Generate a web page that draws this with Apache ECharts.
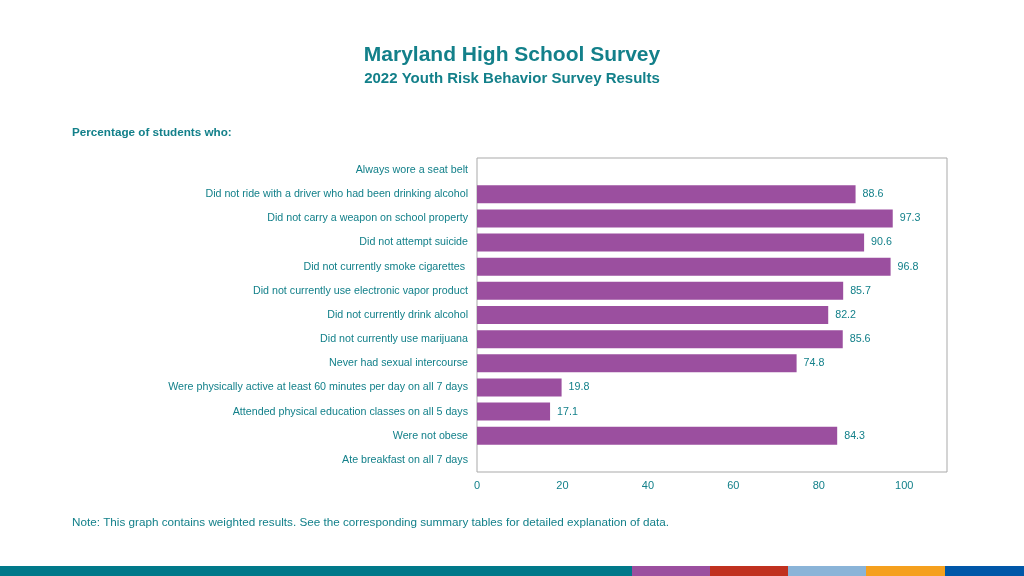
<!DOCTYPE html>
<html><head><meta charset="utf-8">
<script src="https://cdn.jsdelivr.net/npm/echarts@6/dist/echarts.min.js"></script>
<style>html,body{margin:0;padding:0;background:#fff}#c{width:1024px;height:576px}</style>
</head><body><div id="c"></div>
<script>
const categories = [
  "Always wore a seat belt",
  "Did not ride with a driver who had been drinking alcohol",
  "Did not carry a weapon on school property",
  "Did not attempt suicide",
  "Did not currently smoke cigarettes ",
  "Did not currently use electronic vapor product",
  "Did not currently drink alcohol",
  "Did not currently use marijuana",
  "Never had sexual intercourse",
  "Were physically active at least 60 minutes per day on all 7 days",
  "Attended physical education classes on all 5 days",
  "Were not obese",
  "Ate breakfast on all 7 days"
];
const values = [null, 88.6, 97.3, 90.6, 96.8, 85.7, 82.2, 85.6, 74.8, 19.8, 17.1, 84.3, null];
const xTicks = [0, 20, 40, 60, 80, 100];
const stripColors = ["#00798A", "#9B4F9F", "#C0311F", "#8AB4D8", "#F5A01E", "#0057A8"];

const teal = "#13808A";
const font = "Liberation Sans, Arial, sans-serif";
const chart = echarts.init(document.getElementById('c'));
const stripW = [632, 78, 78, 78, 79, 79];
let sx = 0;
const strip = stripColors.map((c, i) => {
  const r = {type: 'rect', left: sx, top: 566, shape: {width: stripW[i], height: 10}, style: {fill: c}};
  sx += stripW[i];
  return r;
});
chart.setOption({
  backgroundColor: '#fff',
  textStyle: {fontFamily: font},
  title: [
    {text: 'Maryland High School Survey', left: 'center', top: 40, textStyle: {color: teal, fontSize: 21, fontWeight: 'bold', fontFamily: font}},
    {text: '2022 Youth Risk Behavior Survey Results', left: 'center', top: 66.5, textStyle: {color: teal, fontSize: 15, fontWeight: 'bold', fontFamily: font}},
    {text: 'Percentage of students who:', left: 67, top: 122, textStyle: {color: teal, fontSize: 11.7, fontWeight: 'bold', fontFamily: font}},
    {text: 'Note: This graph contains weighted results. See the corresponding summary tables for detailed explanation of data.', left: 67, top: 512, textStyle: {color: teal, fontSize: 11.7, fontWeight: 'normal', fontFamily: font}}
  ],
  grid: {left: 477, right: 77, top: 158, bottom: 104, show: true, borderColor: '#a9a9a9', borderWidth: 1, containLabel: false},
  xAxis: {
    type: 'value', min: 0, max: 110, interval: 20,
    axisLine: {show: false}, axisTick: {show: false}, splitLine: {show: false},
    axisLabel: {color: teal, fontSize: 11, margin: 8, showMaxLabel: false,
      formatter: v => xTicks.includes(v) ? String(v) : ''}
  },
  yAxis: {
    type: 'category', data: categories, inverse: true,
    axisLine: {show: false}, axisTick: {show: false},
    axisLabel: {color: teal, fontSize: 10.7, margin: 9, padding: [2, 0, 0, 0]}
  },
  series: [{
    type: 'bar', data: values, barWidth: 18,
    itemStyle: {color: '#9B4F9F'},
    label: {show: true, position: 'right', distance: 7, color: teal, fontSize: 10.7, padding: [3, 0, 0, 0],
      formatter: p => p.value == null ? '' : p.value.toFixed(1)}
  }],
  graphic: strip
});
</script></body></html>
